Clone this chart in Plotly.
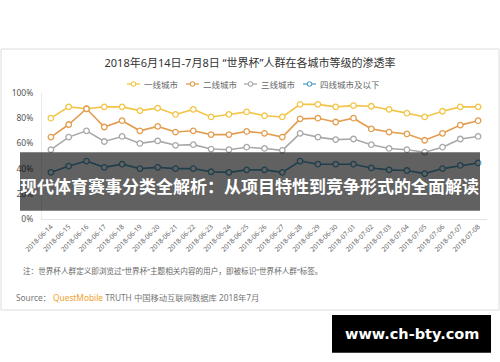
import plotly.graph_objects as go

# ---------------- data ----------------
dates = ["2018-06-14", "2018-06-15", "2018-06-16", "2018-06-17", "2018-06-18",
         "2018-06-19", "2018-06-20", "2018-06-21", "2018-06-22", "2018-06-23",
         "2018-06-24", "2018-06-25", "2018-06-26", "2018-06-27", "2018-06-28",
         "2018-06-29", "2018-06-30", "2018-07-01", "2018-07-02", "2018-07-03",
         "2018-07-04", "2018-07-05", "2018-07-06", "2018-07-07", "2018-07-08"]
tier1 = [80, 89, 87.5, 89, 89, 86, 88, 83, 87, 81, 83, 85, 82, 81, 91, 91,
         89, 90, 89.5, 87, 84, 81, 85.5, 89, 89]
tier2 = [65, 75, 87.5, 73, 78, 70, 73.5, 69, 70, 67, 67, 69.5, 68, 65, 79.5, 80,
         77, 80, 71.5, 69, 67.5, 62.5, 68, 74.5, 78]
tier3 = [55, 65, 70, 61.5, 65.5, 60, 62, 58.5, 59, 55.5, 55, 57, 56, 54.5, 68, 65,
         63, 63.5, 59, 56, 55, 53, 57, 63.5, 65.5]
tier4 = [37, 42, 46, 41, 43.5, 40, 41, 40, 40, 37.5, 37, 39, 39, 37, 46, 43.5,
         43.5, 43.5, 40.5, 39, 38.5, 36, 40, 42.5, 44.5]
series_names = ["一线城市", "二线城市", "三线城市", "四线城市及以下"]
series_values = [tier1, tier2, tier3, tier4]
series_colors = ["#F2C547", "#E39D4E", "#A8A8A8", "#4FA3C7"]
y_tick_vals = [0, 20, 40, 60, 80, 100]
y_tick_text = ["0%", "20%", "40%", "60%", "80%", "100%"]

title_text = "2018年6月14日-7月8日 “世界杯”人群在各城市等级的渗透率"
note_text = "注：世界杯人群定义即浏览过“世界杯”主题相关内容的用户，即被标识“世界杯人群”标签。"
source_text = ("Source： <span style='color:#F0A12B'>QuestMobile</span>"
               " TRUTH 中国移动互联网数据库 2018年7月")
banner_text = "现代体育赛事分类全解析：从项目特性到竞争形式的全面解读"
watermark_text = "www.ch-bty.com"

# ---------------- layout helpers ----------------
W, H = 500, 362
ML, MR, MT, MB = 42, 13, 93, 143
PW, PH = W - ML - MR, H - MT - MB
FONT = "Noto Sans, Noto Sans CJK SC, sans-serif"


def px(x):
    return (x - ML) / PW


def py(y):
    return (H - MB - y) / PH


fig = go.Figure()
for name, vals, col in zip(series_names, series_values, series_colors):
    fig.add_trace(go.Scatter(
        x=dates, y=vals, name=name, mode="lines+markers",
        line=dict(color=col, width=1.6),
        marker=dict(symbol="circle", size=5.5, color="white",
                    line=dict(color=col, width=1.3)),
        showlegend=False,
    ))

shapes = []
annotations = []

# outer frame
shapes.append(dict(type="rect", xref="paper", yref="paper",
                   x0=px(1), x1=px(499), y0=py(310), y1=py(49),
                   line=dict(color="#DCDCDC", width=1), layer="below"))

# manual legend
legend_x = [127, 186, 244, 303]
for lx, name, col in zip(legend_x, series_names, series_colors):
    shapes.append(dict(type="line", xref="paper", yref="paper",
                       x0=px(lx), x1=px(lx + 13), y0=py(84), y1=py(84),
                       line=dict(color=col, width=1.3), layer="above"))
    shapes.append(dict(type="circle", xref="paper", yref="paper",
                       x0=px(lx + 4.3), x1=px(lx + 8.7),
                       y0=py(86.2), y1=py(81.8),
                       fillcolor="white", line=dict(color=col, width=1.1),
                       layer="above"))
    annotations.append(dict(xref="paper", yref="paper", x=px(lx + 15), y=py(84),
                            xanchor="left", yanchor="middle", showarrow=False,
                            text=name, font=dict(family=FONT, size=8.5, color="#666666")))

# note and source
annotations.append(dict(xref="paper", yref="paper", x=px(21), y=py(270.7),
                        xanchor="left", yanchor="middle", showarrow=False,
                        text=note_text, font=dict(family=FONT, size=7.6, color="#666666")))
annotations.append(dict(xref="paper", yref="paper", x=px(14), y=py(297.7),
                        xanchor="left", yanchor="middle", showarrow=False,
                        text=source_text, font=dict(family=FONT, size=8.3, color="#777777")))

# overlay banner
shapes.append(dict(type="rect", xref="paper", yref="paper",
                   x0=px(20), x1=px(480), y0=py(210.7), y1=py(152.3),
                   fillcolor="rgba(0,0,0,0.62)", line=dict(width=0), layer="above"))
annotations.append(dict(xref="paper", yref="paper", x=px(249), y=py(185),
                        xanchor="center", yanchor="middle", showarrow=False,
                        text="<b>" + banner_text + "</b>",
                        font=dict(family="Noto Sans CJK SC, sans-serif", size=17,
                                  color="white")))

# watermark
shapes.append(dict(type="rect", xref="paper", yref="paper",
                   x0=px(332), x1=px(491), y0=py(352.7), y1=py(315),
                   fillcolor="black", line=dict(width=0), layer="above"))
annotations.append(dict(xref="paper", yref="paper", x=px(411.5), y=py(334),
                        xanchor="center", yanchor="middle", showarrow=False,
                        text="<b>" + watermark_text + "</b>",
                        font=dict(family="DejaVu Sans, Verdana, sans-serif", size=14.5,
                                  color="white")))

fig.update_layout(
    width=W, height=H,
    margin=dict(l=ML, r=MR, t=MT, b=MB, pad=0),
    paper_bgcolor="white", plot_bgcolor="white",
    font=dict(family=FONT, color="#555555"),
    title=dict(text=title_text, x=0.5, xanchor="center", xref="container",
               y=1 - 63 / H, yanchor="middle", yref="container",
               font=dict(family=FONT, size=11, color="#333333")),
    shapes=shapes, annotations=annotations,
    hovermode=False,
    xaxis=dict(type="category", range=[-0.5, len(dates) - 0.5],
               tickangle=-45, tickfont=dict(family=FONT, size=6.8, color="#666666"),
               showline=True, linecolor="#E3E3E3", linewidth=1,
               showgrid=False, zeroline=False, ticks=""),
    yaxis=dict(range=[0, 100], tickvals=y_tick_vals, ticktext=y_tick_text,
               tickfont=dict(family=FONT, size=8.5, color="#555555"),
               showline=True, linecolor="#EAEAEA", linewidth=1,
               showgrid=False, zeroline=False, ticks="", ticklabelstandoff=6),
)

fig.write_html("out.html",
               config={"displayModeBar": False},
               post_script="document.body.style.margin='0';"
                           "document.body.style.overflow='hidden';")
